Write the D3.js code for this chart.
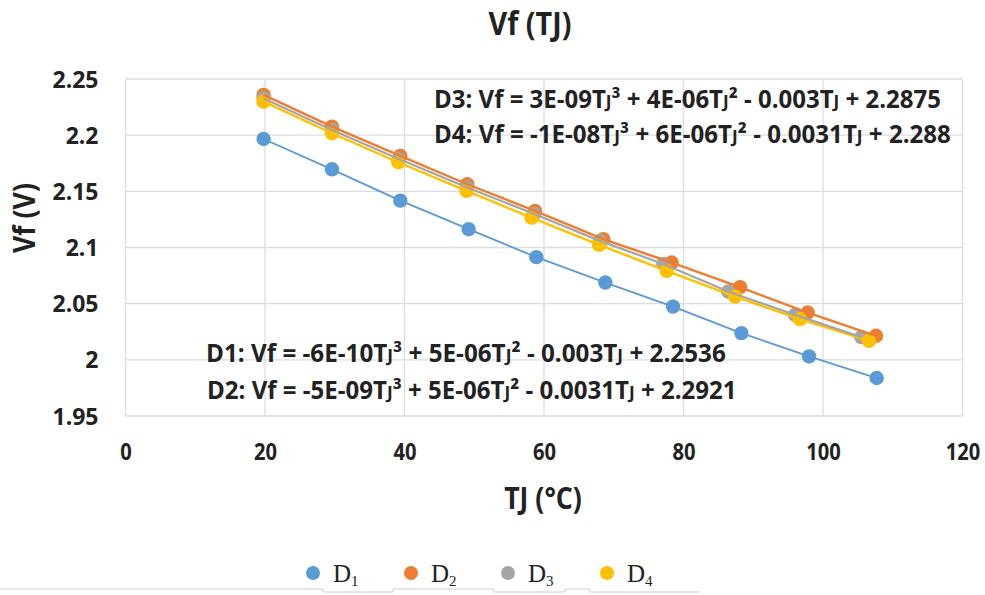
<!DOCTYPE html>
<html><head><meta charset="utf-8">
<script src="https://d3js.org/d3.v7.min.js"></script>
<style>body{margin:0;background:#fff;}svg{display:block;}</style>
</head><body>
<svg id="c" width="985" height="595"></svg>
<script>
const seriesNames = ["D1","D2","D3","D4"];
const seriesColors = ["#5B9BD5","#ED7D31","#A5A5A5","#FFC000"];
const t1 = [19.8, 29.6, 39.4, 49.2, 58.9, 68.8, 78.5, 88.3, 98.0, 107.7];
const d1 = [2.1966, 2.1696, 2.1417, 2.1163, 2.0914, 2.0688, 2.0474, 2.0238, 2.0030, 1.9838];
const t2 = [19.8, 29.6, 39.4, 49.0, 58.7, 68.5, 78.3, 88.1, 97.8, 107.6];
const d2 = [2.2358, 2.2076, 2.1815, 2.1563, 2.1326, 2.1074, 2.0866, 2.0647, 2.0421, 2.0214];
const t3 = [19.8, 29.6, 39.2, 49.0, 58.6, 68.0, 77.1, 86.4, 96.0, 105.5];
const d3v = [2.2327, 2.2046, 2.1788, 2.1535, 2.1299, 2.1059, 2.0854, 2.0608, 2.0400, 2.0202];
const t4 = [19.8, 29.6, 39.1, 48.9, 58.2, 67.9, 77.6, 87.4, 96.7, 106.6];
const d4 = [2.2298, 2.2017, 2.1759, 2.1504, 2.1266, 2.1023, 2.0792, 2.0563, 2.0362, 2.0169];
const xTicks = [0, 20, 40, 60, 80, 100, 120];
const yTicks = [1.95, 2, 2.05, 2.1, 2.15, 2.2, 2.25];
const equations = [
  ["D1: Vf = -6E-10T","J","³ + 5E-06T","J","² - 0.003T","J"," + 2.2536"],
  ["D2: Vf = -5E-09T","J","³ + 5E-06T","J","² - 0.0031T","J"," + 2.2921"],
  ["D3: Vf = 3E-09T","J","³ + 4E-06T","J","² - 0.003T","J"," + 2.2875"],
  ["D4: Vf = -1E-08T","J","³ + 6E-06T","J","² - 0.0031T","J"," + 2.288"]
];

const svg = d3.select("#c");
const font = "'Open Sans', 'Noto Sans', sans-serif";
const x = d3.scaleLinear().domain([0,120]).range([125.5, 962.5]);
const y = d3.scaleLinear().domain([1.95,2.25]).range([416, 79]);

// grid
const grid = svg.append("g");
grid.selectAll("line.h").data(yTicks).join("line")
  .attr("x1", x(0)).attr("x2", x(120)).attr("y1", d=>y(d)).attr("y2", d=>y(d))
  .attr("stroke","#D9DEE6").attr("stroke-width",1.3);
grid.selectAll("line.v").data(xTicks).join("line")
  .attr("y1", y(1.95)).attr("y2", y(2.25)).attr("x1", d=>x(d)).attr("x2", d=>x(d))
  .attr("stroke","#D9DEE6").attr("stroke-width",1.3);

// axes
const ya = svg.append("g").attr("transform",`translate(${x(0)-27},0)`)
  .call(d3.axisLeft(y).tickValues(yTicks).tickSize(0).tickFormat(d=>d3.format("")(d)));
ya.select(".domain").remove();
ya.selectAll("text").attr("font-family",font).attr("font-weight","bold").attr("font-size",23)
  .attr("fill","#222").attr("dy","0.35em").attr("x",0);

const xa = svg.append("g").attr("transform",`translate(0,${y(1.95)+36})`)
  .call(d3.axisBottom(x).tickValues(xTicks).tickSize(0));
xa.select(".domain").remove();
xa.selectAll("text").attr("font-family",font).attr("font-weight","bold").attr("font-size",24)
  .attr("fill","#222").attr("dy","0.35em").attr("y",0).attr("x",0)
  .attr("transform","scale(0.84,1)");

// title & axis titles
svg.append("text").attr("text-anchor","middle")
  .attr("font-family",font).attr("font-weight","bold").attr("font-size",33).attr("fill","#222")
  .attr("transform","translate(530,35) scale(0.87,1)")
  .text("Vf (TJ)");
svg.append("text").attr("text-anchor","middle")
  .attr("font-family",font).attr("font-weight","bold").attr("font-size",31).attr("fill","#222")
  .attr("transform","translate(35,218) rotate(-90) scale(0.86,1)")
  .text("Vf (V)");
svg.append("text").attr("text-anchor","middle")
  .attr("font-family",font).attr("font-weight","bold").attr("font-size",31).attr("fill","#222")
  .attr("transform","translate(543,509) scale(0.86,1)")
  .text("TJ (°C)");

// series
const series = [
  {t:t1, v:d1, c:seriesColors[0], w:1.8},
  {t:t2, v:d2, c:seriesColors[1], w:2.4},
  {t:t3, v:d3v, c:seriesColors[2], w:2.2},
  {t:t4, v:d4, c:seriesColors[3], w:2.4}
];
const line = d3.line().x(d=>x(d[0])).y(d=>y(d[1]));
function pts(s){ return s.t.map((t,i)=>[t, s.v[i]]); }
function drawLine(s){
  svg.append("path").datum(pts(s)).attr("d",line).attr("fill","none")
    .attr("stroke",s.c).attr("stroke-width",s.w);
}
function drawPts(s){
  svg.append("g").selectAll("circle").data(pts(s)).join("circle")
    .attr("cx",d=>x(d[0])).attr("cy",d=>y(d[1])).attr("r",7.2).attr("fill",s.c);
}
drawLine(series[0]); drawPts(series[0]);
drawPts(series[1]); drawPts(series[2]); drawPts(series[3]);
drawLine(series[1]); drawLine(series[3]); drawLine(series[2]);

// equations
const eqPos = [[206,362,520],[207,399,530],[434,108,507],[434,143,517]];
equations.forEach((parts,i)=>{
  const tx = svg.append("text").attr("x",0).attr("y",0)
    .attr("font-family",font).attr("font-weight","bold").attr("font-size",25).attr("fill","#222");
  parts.forEach(p=>{
    tx.append("tspan").attr("font-size", p==="J"?18:25).text(p);
  });
  const w = tx.node().getComputedTextLength();
  tx.attr("transform",`translate(${eqPos[i][0]},${eqPos[i][1]}) scale(${eqPos[i][2]/w},1)`);
});

// legend
const lg = svg.append("g");
const lgX = [313, 411, 508, 607];
seriesNames.forEach((n,i)=>{
  lg.append("circle").attr("cx",lgX[i]).attr("cy",573).attr("r",7).attr("fill",seriesColors[i]);
  const t = lg.append("text").attr("x",lgX[i]+20).attr("y",582)
    .attr("font-family","'Liberation Serif','DejaVu Serif',serif").attr("font-size",25).attr("fill","#222");
  t.append("tspan").text("D");
  t.append("tspan").attr("font-size",15).attr("dy",4).text(n.slice(1));
});
svg.append("path").attr("d","M0,589H323V592H393V589H494V592H565V589H590V592H700")
  .attr("fill","none").attr("stroke","#cfcfcf").attr("stroke-width",1);
</script>
</body></html>
